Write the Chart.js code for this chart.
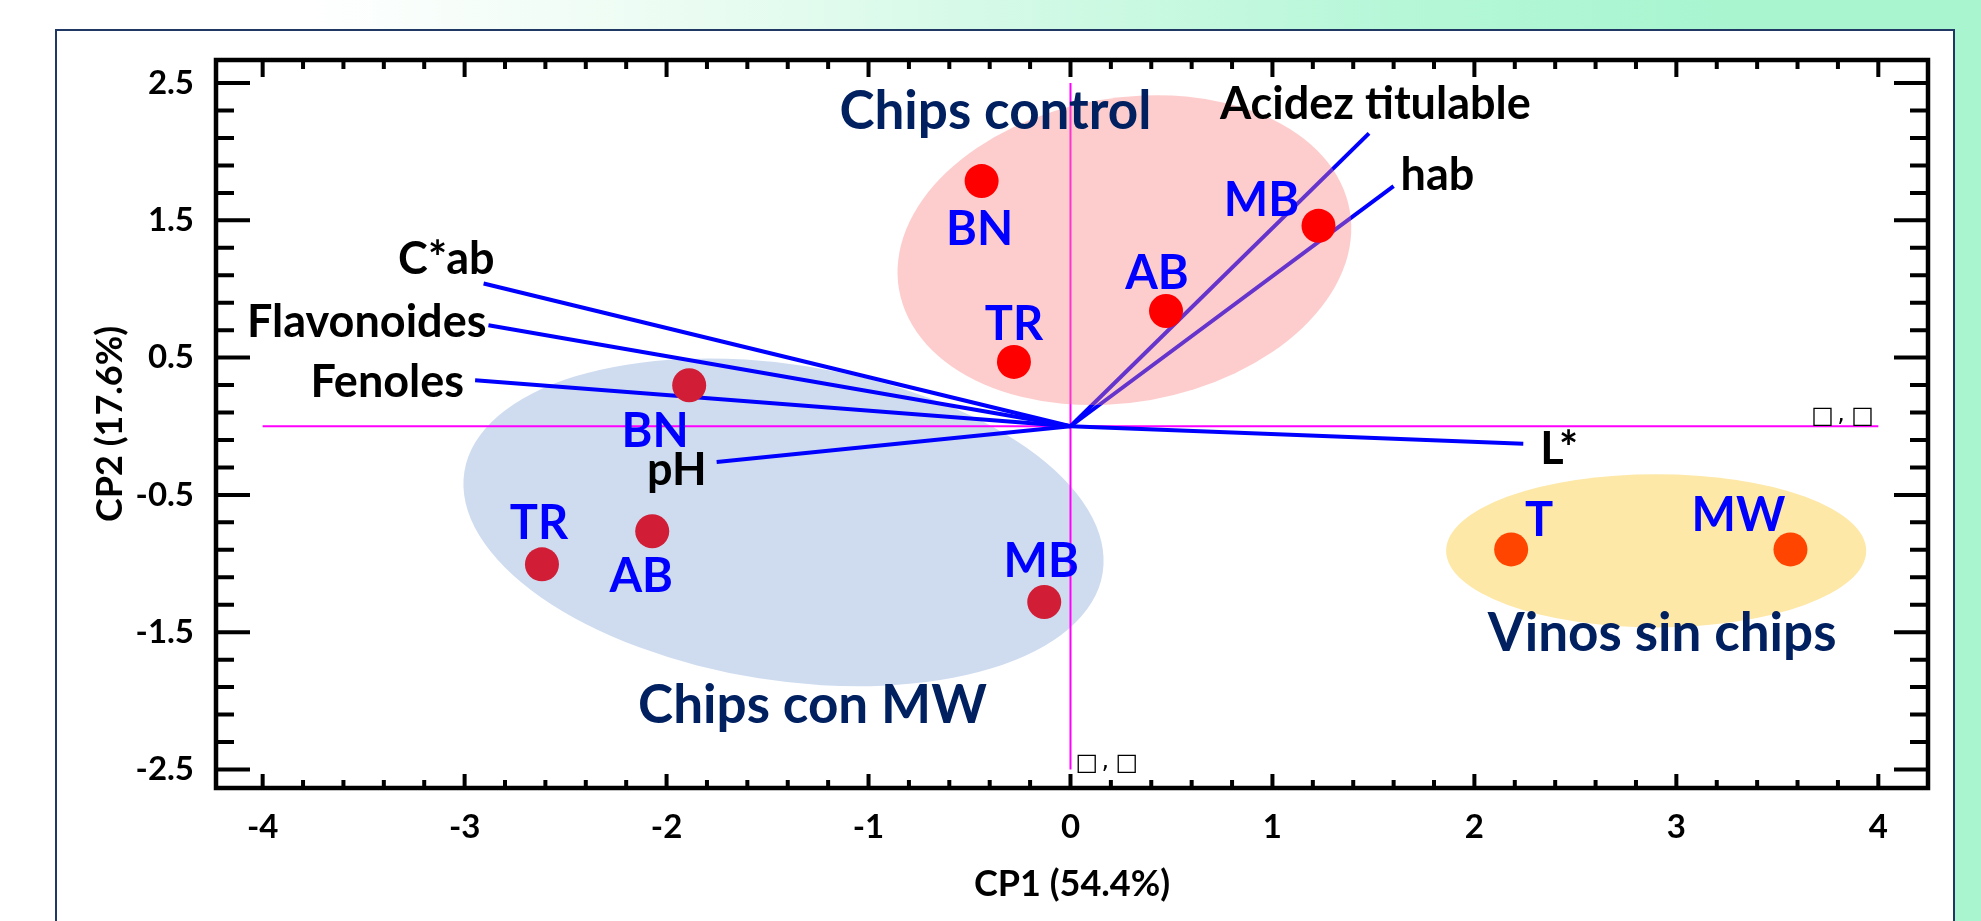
<!DOCTYPE html>
<html><head><meta charset="utf-8">
<script src="https://cdn.jsdelivr.net/npm/chart.js@4.4.1/dist/chart.umd.min.js"></script>
<style>
html,body{margin:0;padding:0;width:1981px;height:921px;overflow:hidden;}
body{position:relative;background:linear-gradient(90deg,#ffffff 0%,#ffffff 15%,#eafcf2 35%,#cdf9e3 55%,#b4f7d7 72%,#a8f5d0 88%,#a8f5d0 100%);}
#panel{position:absolute;left:55px;top:29px;width:1900px;height:960px;background:#fff;border:2px solid #1f3864;box-sizing:border-box;}
#wrap{position:absolute;left:0;top:0;width:1981px;height:921px;}
</style></head>
<body>
<div id="panel"></div>
<div id="wrap"><canvas id="c"></canvas></div>
<script>
// ---------- data ----------
const groupNames = ['Chips control', 'Chips con MW', 'Vinos sin chips'];
const controlLabels = ['BN', 'TR', 'AB', 'MB'];
const controlCP1 = [-0.44, -0.28, 0.473, 1.228];
const controlCP2 = [1.786, 0.469, 0.84, 1.46];
const mwLabels = ['BN', 'TR', 'AB', 'MB'];
const mwCP1 = [-1.888, -2.617, -2.071, -0.13];
const mwCP2 = [0.299, -1.006, -0.765, -1.28];
const sinLabels = ['T', 'MW'];
const sinCP1 = [2.182, 3.565];
const sinCP2 = [-0.897, -0.897];
const variables = ['Acidez titulable', 'hab', 'C*ab', 'Flavonoides', 'Fenoles', 'pH', 'L*'];
const loadCP1 = [1.478, 1.60, -2.906, -2.882, -2.948, -1.752, 2.242];
const loadCP2 = [2.133, 1.75, 1.04, 0.736, 0.335, -0.26, -0.128];
const xTickValues = [-4, -3, -2, -1, 0, 1, 2, 3, 4];
const yTickValues = [-2.5, -1.5, -0.5, 0.5, 1.5, 2.5];
const xTitle = 'CP1 (54.4%)';
const yTitle = 'CP2 (17.6%)';

// ---------- styles / annotation geometry ----------
const FONT = 'Lato';
const pointStyles = [
  {color: '#ff0000', labelOff: [[-2, 47], [0, -39], [-9, -39], [-57, -27]]},
  {color: '#d11d35', labelOff: [[-34, 45], [-3, -42], [-11, 44], [-3, -42]]},
  {color: '#ff4500', labelOff: [[28, -30], [-52, -35]]}
];
// variable label placement: [dx, dy (to baseline), align]
const varLabelStyle = [[-149, -14, 'left'], [7, 4, 'left'], [11, -9, 'right'], [-2, 12, 'right'],
  [-11, 17, 'right'], [-10, 23, 'right'], [17, 20, 'left']];
const ellipses = [
  {cx: 0.267, cy: 1.283, rx: 1.133, ry: 1.108, rot: -10, color: 'rgba(250,130,130,0.40)', over: true, labelOff: [-129, -140]},
  {cx: -1.421, cy: -0.70, rx: 1.60, ry: 1.15, rot: 9, color: '#cfdcf0', over: false, labelOff: [29, 182]},
  {cx: 2.90, cy: -0.907, rx: 1.04, ry: 0.558, rot: 0, color: '#fde8a8', over: false, labelOff: [6, 81]}
];

function drawEllipse(ctx, xs, ys, e) {
  const cx = xs.getPixelForValue(e.cx), cy = ys.getPixelForValue(e.cy);
  const rx = Math.abs(xs.getPixelForValue(e.cx + e.rx) - cx);
  const ry = Math.abs(ys.getPixelForValue(e.cy + e.ry) - cy);
  ctx.save();
  ctx.fillStyle = e.color;
  ctx.beginPath();
  ctx.ellipse(cx, cy, rx, ry, e.rot * Math.PI / 180, 0, Math.PI * 2);
  ctx.fill();
  ctx.restore();
}

function drawTofu(ctx, left, baseline) {
  ctx.fillText('\u25A1', left, baseline);
  ctx.fillText(',', left + 26, baseline - 2);
  ctx.fillText('\u25A1', left + 40, baseline);
}

const pcaPlugin = {
  id: 'pca',
  beforeDatasetsDraw(chart) {
    const {ctx, scales: {x: xs, y: ys}} = chart;
    ellipses.filter(e => !e.over).forEach(e => drawEllipse(ctx, xs, ys, e));
    ctx.save();
    ctx.strokeStyle = '#ff00ff';
    ctx.lineWidth = 2;
    ctx.beginPath();
    const y0 = ys.getPixelForValue(0), x0 = xs.getPixelForValue(0);
    ctx.moveTo(xs.getPixelForValue(xTickValues[0]), y0);
    ctx.lineTo(xs.getPixelForValue(xTickValues[xTickValues.length - 1]), y0);
    ctx.moveTo(x0, ys.getPixelForValue(yTickValues[yTickValues.length - 1]));
    ctx.lineTo(x0, ys.getPixelForValue(yTickValues[0]));
    ctx.stroke();
    ctx.restore();
  },
  beforeDatasetDraw(chart, args) {
    if (chart.data.datasets[args.index].overlayBefore) {
      const {ctx, scales: {x: xs, y: ys}} = chart;
      ellipses.filter(e => e.over).forEach(e => drawEllipse(ctx, xs, ys, e));
    }
  },
  afterDatasetsDraw(chart) {
    const {ctx, chartArea: a, scales: {x: xs, y: ys}} = chart;
    ctx.save();
    // point labels
    const groups = [[controlLabels, controlCP1, controlCP2], [mwLabels, mwCP1, mwCP2], [sinLabels, sinCP1, sinCP2]];
    ctx.font = 'bold 47px ' + FONT;
    ctx.fillStyle = '#0000ff';
    ctx.textAlign = 'center';
    ctx.textBaseline = 'alphabetic';
    groups.forEach((g, gi) => {
      g[0].forEach((lab, i) => {
        const px = xs.getPixelForValue(g[1][i]), py = ys.getPixelForValue(g[2][i]);
        const off = pointStyles[gi].labelOff[i];
        ctx.fillText(lab, px + off[0], py + off[1] + 0.36 * 47);
      });
    });
    // variable labels
    ctx.font = 'bold 45px ' + FONT;
    ctx.fillStyle = '#000000';
    variables.forEach((v, i) => {
      const px = xs.getPixelForValue(loadCP1[i]), py = ys.getPixelForValue(loadCP2[i]);
      const s = varLabelStyle[i];
      ctx.textAlign = s[2];
      ctx.fillText(v, px + s[0], py + s[1]);
    });
    // group labels
    ctx.font = 'bold 53px ' + FONT;
    ctx.fillStyle = '#002060';
    ctx.textAlign = 'center';
    ellipses.forEach((e, i) => {
      const cx = xs.getPixelForValue(e.cx), cy = ys.getPixelForValue(e.cy);
      ctx.fillText(groupNames[i], cx + e.labelOff[0], cy + e.labelOff[1] + 0.36 * 53);
    });
    // missing-glyph boxes
    ctx.font = '24px "DejaVu Sans"';
    ctx.fillStyle = '#000';
    ctx.textAlign = 'left';
    const hx = xs.getPixelForValue(xTickValues[xTickValues.length - 1]), hy = ys.getPixelForValue(0);
    drawTofu(ctx, hx - 67, hy - 3);
    const vx = xs.getPixelForValue(0), vy = ys.getPixelForValue(yTickValues[0]);
    drawTofu(ctx, vx + 5, vy + 1);
    // frame
    ctx.strokeStyle = '#000';
    ctx.lineWidth = 4.5;
    ctx.strokeRect(a.left, a.top, a.right - a.left, a.bottom - a.top);
    // inward ticks
    ctx.lineWidth = 4;
    ctx.beginPath();
    const yMin = yTickValues[0], yMax = yTickValues[yTickValues.length - 1];
    for (let k = 0; k <= Math.round((yMax - yMin) / 0.2); k++) {
      const v = yMin + k * 0.2;
      const major = k % 5 === 0;
      const py = ys.getPixelForValue(v);
      const L = major ? 34 : 18;
      ctx.moveTo(a.left, py); ctx.lineTo(a.left + L, py);
      ctx.moveTo(a.right, py); ctx.lineTo(a.right - L, py);
    }
    const xMin = xTickValues[0], xMax = xTickValues[xTickValues.length - 1];
    for (let k = 0; k <= Math.round((xMax - xMin) / 0.2); k++) {
      const v = xMin + k * 0.2;
      const major = k % 5 === 0;
      const px = xs.getPixelForValue(v);
      ctx.moveTo(px, a.top); ctx.lineTo(px, a.top + (major ? 17 : 9));
      ctx.moveTo(px, a.bottom); ctx.lineTo(px, a.bottom - (major ? 14 : 8));
    }
    ctx.stroke();
    ctx.restore();
  }
};

const datasets = [];
variables.forEach((v, i) => {
  datasets.push({
    type: 'line', label: v,
    data: [{x: 0, y: 0}, {x: loadCP1[i], y: loadCP2[i]}],
    borderColor: '#0000ff', borderWidth: 4, pointRadius: 0, showLine: true, fill: false, order: 10
  });
});
const ptGroups = [[controlCP1, controlCP2], [mwCP1, mwCP2], [sinCP1, sinCP2]];
ptGroups.forEach((g, gi) => {
  datasets.push({
    type: 'scatter', label: groupNames[gi],
    data: g[0].map((x, i) => ({x: x, y: g[1][i]})),
    backgroundColor: pointStyles[gi].color, borderWidth: 0,
    pointRadius: 17, pointHoverRadius: 17, order: 3 - gi,
    overlayBefore: gi === 0
  });
});

const tickFont = {family: FONT, weight: 'bold', size: 33};
const titleFont = {family: FONT, weight: 'bold', size: 36};

new Chart(document.getElementById('c'), {
  type: 'scatter',
  data: {datasets: datasets},
  plugins: [pcaPlugin],
  options: {
    responsive: true, maintainAspectRatio: false, animation: false, events: [],
    layout: {padding: {left: 0, top: 60, right: 53, bottom: 0}},
    plugins: {legend: {display: false}, tooltip: {enabled: false}},
    scales: {
      x: {
        type: 'linear', min: -4.231, max: 4.246,
        afterBuildTicks: s => { s.ticks = xTickValues.map(v => ({value: v})); },
        afterFit: s => { s.height = 133; },
        grid: {display: false, drawTicks: false},
        border: {display: false},
        ticks: {font: tickFont, color: '#000', padding: 20, maxRotation: 0, autoSkip: false, callback: v => String(v)},
        title: {display: true, text: xTitle, font: titleFont, color: '#000', padding: {top: 0, bottom: 15}}
      },
      y: {
        type: 'linear', min: -2.635, max: 2.668,
        afterBuildTicks: s => { s.ticks = yTickValues.map(v => ({value: v})); },
        afterFit: s => { s.width = 216; },
        grid: {display: false, drawTicks: false},
        border: {display: false},
        ticks: {font: tickFont, color: '#000', padding: 22, autoSkip: false, callback: v => String(v)},
        title: {display: true, text: yTitle, font: titleFont, color: '#000', padding: {top: 89, bottom: 0}}
      }
    }
  }
});
</script>
</body></html>
